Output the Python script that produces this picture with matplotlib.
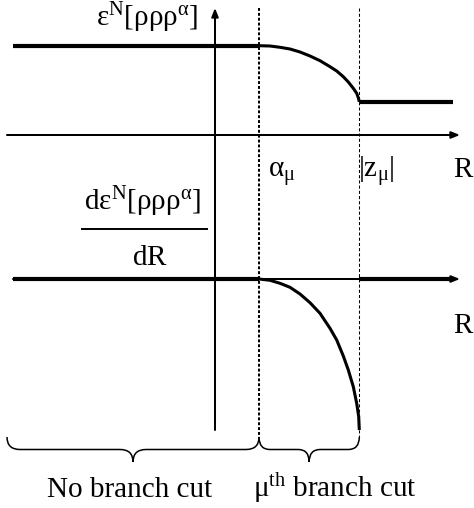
import matplotlib
matplotlib.use("Agg")
import matplotlib.pyplot as plt
from matplotlib.path import Path
from matplotlib.patches import PathPatch

plt.rcParams['font.family'] = ['Liberation Serif', 'DejaVu Serif']
plt.rcParams['mathtext.fontset'] = 'custom'
plt.rcParams['mathtext.rm'] = 'Liberation Serif'
plt.rcParams['mathtext.it'] = 'Liberation Serif:italic'
plt.rcParams['mathtext.bf'] = 'Liberation Serif:bold'

# ---- schematic data (R in diagram units, origin at the energy axis) ----
R_left = -2.02          # start of plotted levels
R_right = 2.38          # end of plotted levels
alpha_mu = 0.44         # start of the branch cut
z_mu = 1.443            # |z_mu|, end of the branch cut
E_before = 0.893        # energy level for R < alpha_mu
E_after = 0.33          # energy level for R > |z_mu|

# energy inside the branch cut
R_cut_E = [0.44, 0.55, 0.65, 0.75, 0.85, 0.95, 1.05, 1.15, 1.217, 1.283,
           1.333, 1.383, 1.417, 1.433, 1.443]
E_cut = [0.893, 0.89, 0.877, 0.86, 0.83, 0.79, 0.743, 0.683, 0.64, 0.583,
         0.53, 0.467, 0.417, 0.373, 0.333]

# derivative inside the branch cut
R_cut_D = [0.44, 0.55, 0.65, 0.75, 0.85, 0.95, 1.05, 1.15, 1.217, 1.283,
           1.333, 1.383, 1.417, 1.437, 1.443]
dE_cut = [0.0, -0.013, -0.043, -0.083, -0.15, -0.237, -0.343, -0.493, -0.61,
          -0.77, -0.91, -1.077, -1.243, -1.377, -1.51]

top_label = r'$\mathrm{ε}^{\mathrm{N}}[\mathrm{ρρρ}^{\mathrm{α}}]$'
num_label = r'$\mathrm{dε}^{\mathrm{N}}[\mathrm{ρρρ}^{\mathrm{α}}]$'
den_label = r'$\mathrm{dR}$'
alpha_label = r'$\mathrm{α}_{\mathrm{μ}}$'
z_label = r'$|\mathrm{z}_{\mathrm{μ}}|$'
axis_label = 'R'
region_labels = ['No branch cut', r'$\mathrm{μ}^{\mathrm{th}}$ branch cut']

# ---- layout ----
D_OFFSET = -1.44        # vertical position of the derivative panel's axis
AX_X0_TOP = -2.08
AX_X1 = 2.45
Y_TOP = 1.27
Y_AXIS_BOTTOM = -2.95
BRACE_TOP, BRACE_MID, BRACE_TIP = -3.02, -3.145, -3.27

fig = plt.figure(figsize=(4.74, 5.08), dpi=100)
ax = fig.add_axes([0, 0, 1, 1])
ax.set_xlim(-2.15, 2.59)
ax.set_ylim(-3.73, 1.35)
ax.axis('off')

THICK = 3.0
CURVE = 2.2
AXLW = 1.45

arrowprops = dict(arrowstyle='-|>,head_length=0.5,head_width=0.2',
                  mutation_scale=10, lw=AXLW, color='black',
                  shrinkA=0, shrinkB=0)

# horizontal axes
ax.annotate('', xy=(AX_X1, 0), xytext=(AX_X0_TOP, 0), arrowprops=arrowprops)
ax.annotate('', xy=(AX_X1, D_OFFSET), xytext=(R_left, D_OFFSET), arrowprops=arrowprops)
# vertical axis
ax.annotate('', xy=(0, Y_TOP), xytext=(0, Y_AXIS_BOTTOM), arrowprops=arrowprops)

# dashed guides
ax.plot([alpha_mu, alpha_mu], [Y_TOP, BRACE_TOP], color='black', lw=1.45,
        ls=(0, (1.45, 0.97)))
ax.plot([z_mu, z_mu], [Y_TOP, BRACE_TOP], color='black', lw=0.75,
        ls=(0, (3, 2)))

# energy
ax.plot([R_left, alpha_mu], [E_before, E_before], color='black', lw=THICK,
        solid_capstyle='butt')
ax.plot(R_cut_E, E_cut, color='black', lw=CURVE, solid_capstyle='butt')
ax.plot([z_mu, R_right], [E_after, E_after], color='black', lw=THICK,
        solid_capstyle='butt')

# derivative
ax.plot([R_left, alpha_mu], [D_OFFSET, D_OFFSET], color='black', lw=THICK,
        solid_capstyle='butt')
ax.plot(R_cut_D, [D_OFFSET + v for v in dE_cut], color='black', lw=CURVE,
        solid_capstyle='butt')
ax.plot([z_mu, R_right], [D_OFFSET, D_OFFSET], color='black', lw=THICK,
        solid_capstyle='butt')


def brace(x0, x1, r):
    xm = (x0 + x1) / 2
    verts = [(x0, BRACE_TOP), (x0, BRACE_MID), (x0 + r, BRACE_MID),
             (xm - r, BRACE_MID), (xm, BRACE_MID), (xm, BRACE_TIP),
             (xm, BRACE_MID), (xm + r, BRACE_MID),
             (x1 - r, BRACE_MID), (x1, BRACE_MID), (x1, BRACE_TOP)]
    codes = [Path.MOVETO, Path.CURVE3, Path.CURVE3,
             Path.LINETO, Path.CURVE3, Path.CURVE3,
             Path.CURVE3, Path.CURVE3,
             Path.LINETO, Path.CURVE3, Path.CURVE3]
    ax.add_patch(PathPatch(Path(verts, codes), fill=False, lw=1.1,
                           edgecolor='black'))


brace(AX_X0_TOP, alpha_mu, 0.13)
brace(alpha_mu, z_mu, 0.11)

FS = 21
ax.text(-0.675, 1.085, top_label, fontsize=FS, ha='center', va='baseline')
ax.text(-0.73, -0.75, num_label, fontsize=FS, ha='center', va='baseline')
ax.plot([-1.33, -0.08], [-0.94, -0.94], color='black', lw=1.4)
ax.text(-0.65, -1.30, den_label, fontsize=FS, ha='center', va='baseline')
ax.text(0.53, -0.42, alpha_label, fontsize=FS, ha='left', va='baseline')
ax.text(1.43, -0.42, z_label, fontsize=FS, ha='left', va='baseline')
ax.text(2.58, -0.42, axis_label, fontsize=FS, ha='right', va='baseline')
ax.text(2.58, -1.98, axis_label, fontsize=FS, ha='right', va='baseline')
ax.text(-0.85, -3.62, region_labels[0], fontsize=FS, ha='center', va='baseline')
ax.text(1.20, -3.62, region_labels[1], fontsize=FS, ha='center', va='baseline')

fig.savefig('out.png', dpi=100)
